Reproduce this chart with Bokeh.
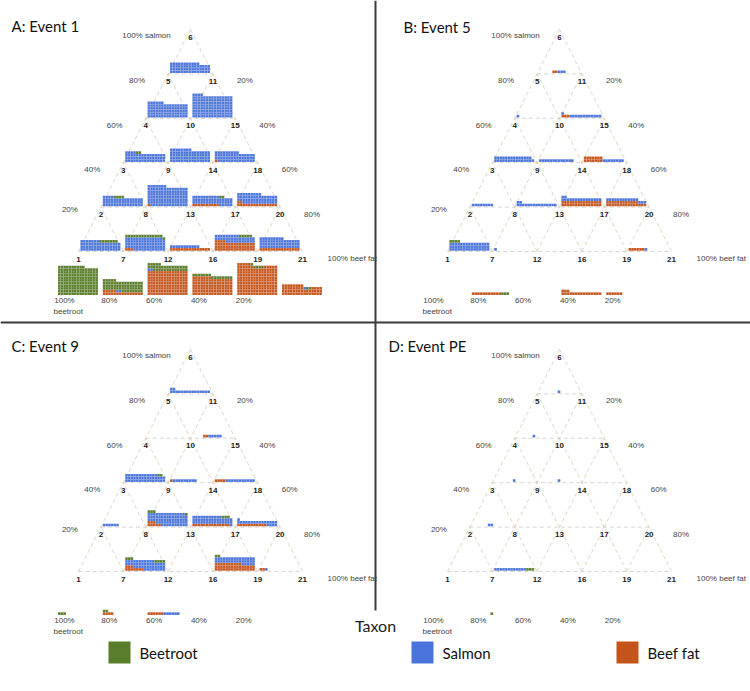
from bokeh.plotting import figure
from bokeh.models import Range1d
from bokeh.embed import file_html
from bokeh.resources import INLINE
from bokeh.core.properties import value

# ---------------- data ----------------
taxa = ["Beetroot", "Salmon", "Beef fat"]
taxon_colors = ["#5a7d2b", "#4a74db", "#c5541b"]

# diet points of the ternary grid, bottom row first
point_rows = [[1, 7, 12, 16, 19, 21], [2, 8, 13, 17, 20], [3, 9, 14, 18], [4, 10, 15], [5, 11], [6]]
left_pct = ["20%", "40%", "60%", "80%"]
right_pct = ["80%", "60%", "40%", "20%"]
bottom_pct = ["100%", "80%", "60%", "40%", "20%"]
panel_titles = ["A: Event 1", "B: Event 5", "C: Event 9", "D: Event PE"]

# each block: runs of columns (n columns, beef fat, salmon, beetroot squares per column)
event_1 = {
    6: [(11, 0, 4, 0), (4, 0, 3, 0)],
    5: [(6, 0, 6, 0), (9, 0, 5, 0)],
    11: [(4, 0, 9, 0), (11, 0, 8, 0)],
    4: [(4, 0, 4, 0), (2, 0, 3, 1), (9, 0, 3, 0)],
    10: [(8, 0, 5, 0), (7, 0, 4, 0)],
    15: [(1, 1, 3, 0), (8, 0, 4, 0), (6, 0, 3, 0)],
    3: [(4, 0, 4, 0), (4, 0, 3, 1), (7, 0, 3, 0)],
    9: [(1, 1, 7, 0), (6, 0, 8, 0), (8, 0, 7, 0)],
    14: [(10, 1, 3, 0), (2, 0, 3, 1), (3, 0, 3, 0)],
    18: [(2, 2, 3, 0), (7, 1, 4, 0), (6, 1, 3, 0)],
    2: [(7, 0, 4, 0), (7, 0, 3, 1), (1, 0, 3, 0)],
    8: [(3, 1, 4, 1), (11, 0, 5, 1), (1, 0, 4, 1)],
    13: [(11, 1, 1, 0), (4, 1, 0, 0)],
    17: [(4, 4, 2, 0), (5, 3, 3, 0), (5, 3, 2, 1), (1, 3, 2, 0)],
    20: [(9, 1, 4, 0), (6, 1, 3, 0)],
    1: [(10, 0, 0, 11), (5, 0, 0, 10)],
    7: [(5, 2, 0, 4), (2, 1, 1, 3), (8, 1, 0, 4)],
    12: [(2, 9, 1, 2), (3, 9, 0, 3), (10, 9, 0, 2)],
    16: [(7, 7, 0, 1), (8, 6, 0, 1)],
    19: [(5, 12, 0, 0), (1, 11, 0, 1), (4, 10, 0, 1), (5, 11, 0, 0)],
    21: [(8, 4, 0, 0), (1, 2, 1, 0), (2, 2, 0, 1), (4, 3, 0, 0)],
}
event_5 = {
    6: [(5, 0, 0, 0), (2, 1, 0, 0), (3, 0, 1, 0)],
    5: [(1, 0, 1, 0)],
    11: [(1, 1, 1, 0), (2, 1, 0, 0), (12, 0, 1, 0)],
    4: [(14, 0, 2, 0), (1, 0, 1, 0)],
    10: [(13, 0, 1, 0)],
    15: [(7, 2, 0, 0), (8, 0, 1, 0)],
    3: [(8, 0, 1, 0)],
    9: [(2, 0, 2, 0), (13, 0, 1, 0)],
    14: [(2, 2, 2, 0), (13, 2, 1, 0)],
    18: [(12, 2, 1, 0), (3, 1, 1, 0)],
    2: [(4, 0, 3, 1), (11, 0, 3, 0)],
    8: [(1, 0, 1, 0)],
    20: [(6, 1, 0, 0), (1, 0, 1, 0)],
    7: [(11, 1, 0, 0), (3, 0, 0, 1)],
    16: [(3, 2, 0, 0), (12, 1, 0, 0)],
    19: [(6, 1, 0, 0)],
}
event_9 = {
    6: [(2, 0, 2, 0), (13, 0, 1, 0)],
    11: [(4, 0, 0, 0), (2, 1, 0, 0), (5, 0, 1, 0)],
    4: [(12, 0, 3, 0), (2, 0, 2, 1), (1, 0, 2, 0)],
    10: [(1, 1, 0, 0), (9, 0, 1, 0)],
    15: [(4, 1, 0, 0), (11, 0, 1, 0)],
    3: [(6, 0, 1, 0)],
    9: [(3, 2, 3, 1), (2, 1, 4, 0), (9, 0, 5, 0), (1, 0, 4, 1)],
    14: [(11, 1, 3, 0), (3, 1, 2, 1), (1, 0, 3, 0)],
    18: [(1, 1, 2, 0), (10, 1, 1, 0), (4, 0, 2, 0)],
    8: [(3, 2, 2, 1), (4, 1, 3, 0), (4, 0, 4, 0), (4, 0, 3, 1)],
    17: [(2, 3, 2, 1), (8, 3, 2, 0), (5, 2, 3, 0)],
    20: [(2, 1, 0, 0), (1, 0, 1, 0)],
    1: [(3, 0, 0, 1)],
    7: [(2, 1, 0, 1), (2, 1, 0, 0)],
    12: [(6, 1, 0, 0), (6, 0, 1, 0)],
}
event_pe = {
    6: [(7, 0, 0, 0), (1, 0, 1, 0)],
    5: [(6, 0, 0, 0), (1, 0, 1, 0)],
    4: [(7, 0, 0, 0), (1, 0, 1, 0)],
    10: [(7, 0, 0, 0), (1, 0, 1, 0)],
    3: [(6, 0, 0, 0), (2, 0, 1, 0)],
    8: [(12, 0, 1, 0), (3, 0, 0, 1)],
    7: [(7, 0, 0, 0), (1, 0, 0, 1)],
}
events = [event_1, event_5, event_9, event_pe]

# ---------------- layout ----------------
W, H = 750, 691
p = figure(width=W, height=H, x_range=Range1d(0, W), y_range=Range1d(H, 0),
           output_backend="svg", toolbar_location=None, min_border=0)
p.xaxis.visible = False
p.yaxis.visible = False
p.grid.visible = False
p.outline_line_color = None
p.background_fill_color = "white"

X0, DX, Y0, DY = 78.0, 44.8, 251.0, 44.4
SQ = 40.0 / 15
offsets = [(0, 0), (369, 0), (0, 320), (369, 320)]
title_pos = [(11, 25), (403, 26), (11, 345), (388, 345)]
col_of = {"Beef fat": taxon_colors[2], "Salmon": taxon_colors[1], "Beetroot": taxon_colors[0]}

pos = {}
for r, row in enumerate(point_rows):
    for i, num in enumerate(row):
        pos[num] = (r, i)

LBL = value("Liberation Sans")
TXT = value("Lato")

for k, (ox, oy) in enumerate(offsets):
    def P(r, i):
        return ox + X0 + DX * i + DX / 2 * r, oy + Y0 - DY * r

    # dashed ternary grid
    xs_h, ys_h, xs_d, ys_d = [], [], [], []
    for r in range(5):
        (a, b), (c, d) = P(r, 0), P(r, 5 - r)
        xs_h.append([a, c]); ys_h.append([b, d])
    for i in range(5):
        (a, b), (c, d) = P(0, i), P(5 - i, i)
        xs_d.append([a, c]); ys_d.append([b, d])
    for i in range(1, 6):
        (a, b), (c, d) = P(0, i), P(i, 0)
        xs_d.append([a, c]); ys_d.append([b, d])
    p.multi_line(xs_h, ys_h, line_color="#cfcac2", line_width=0.8, line_dash="4 3")
    p.multi_line(xs_d, ys_d, line_color="#dcc8ad", line_width=0.8, line_dash="4 3")

    # blocks of squares
    L, R, T, B, C = [], [], [], [], []
    for num, runs in events[k].items():
        r, i = pos[num]
        x, _ = P(r, i)
        if r >= 1:
            base = P(r - 1, 0)[1] - 0.8
        else:
            base = oy + Y0 + 43.5
        left = x - 20.5
        col = 0
        for n, fat, sal, beet in runs:
            for _ in range(n):
                j = 0
                for cnt, tx in ((fat, "Beef fat"), (sal, "Salmon"), (beet, "Beetroot")):
                    for _ in range(cnt):
                        L.append(left + col * SQ); R.append(left + (col + 1) * SQ)
                        B.append(base - j * SQ); T.append(base - (j + 1) * SQ)
                        C.append(col_of[tx])
                        j += 1
                col += 1
    if L:
        p.quad(left=L, right=R, top=T, bottom=B, fill_color=C, line_color="white",
               line_width=0.3, line_alpha=0.4)

    # point numbers
    nx, ny, nt = [], [], []
    for r, row in enumerate(point_rows):
        for i, num in enumerate(row):
            x, y = P(r, i)
            nx.append(x); ny.append(y + 7.5); nt.append(str(num))
    p.text(nx, ny, nt, text_font=LBL, text_font_size="8px", text_font_style="bold",
           text_align="center", text_baseline="middle", text_color="#222222")

    # percentage labels
    px_, py_, pt_ = [], [], []
    for r in range(1, 5):
        x, y = P(r, 0)
        px_.append(x - 31); py_.append(y + 7 - (5 if r == 1 else 0)); pt_.append(left_pct[r - 1])
        x, y = P(r, 5 - r)
        px_.append(x + 32); py_.append(y + 7); pt_.append(right_pct[r - 1])
    for i in range(5):
        x, y = P(0, i)
        px_.append(x - 14); py_.append(oy + Y0 + 49); pt_.append(bottom_pct[i])
    p.text(px_, py_, pt_, text_font=LBL, text_font_size="8px", text_align="center",
           text_baseline="middle", text_color="#444444")
    ax, ay = P(5, 0)
    p.text([ax - 44], [ay + 6], ["100% salmon"], text_font=LBL, text_font_size="8px",
           text_align="center", text_baseline="middle", text_color="#444444")
    bx, by = P(0, 5)
    p.text([bx + 25], [by + 7], ["100% beef fat"], text_font=LBL, text_font_size="8px",
           text_align="left", text_baseline="middle", text_color="#444444")
    cx, cy = P(0, 0)
    p.text([cx - 25], [oy + Y0 + 60], ["beetroot"], text_font=LBL, text_font_size="8px",
           text_align="left", text_baseline="middle", text_color="#444444")

    tx, ty = title_pos[k]
    p.text([tx], [ty], [panel_titles[k]], text_font=TXT, text_font_size="15px",
           text_align="left", text_baseline="middle", text_color="#111111")

# panel dividers
p.segment(x0=[375, 0], y0=[0, 322], x1=[375, 750], y1=[610, 322], line_color="#3a3a3a", line_width=2)

# legend
p.text([375], [625], ["Taxon"], text_font=TXT, text_font_size="16px", text_align="center",
       text_baseline="middle", text_color="#222222")
sw_x = [108, 411, 616]
p.quad(left=sw_x, right=[v + 22 for v in sw_x], top=[641] * 3, bottom=[663] * 3,
       fill_color=taxon_colors, line_color=None)
p.text([v + 31 for v in sw_x], [652] * 3, taxa, text_font=TXT, text_font_size="15px",
       text_align="left", text_baseline="middle", text_color="#111111")

open("out.html", "w").write(file_html(p, INLINE))
